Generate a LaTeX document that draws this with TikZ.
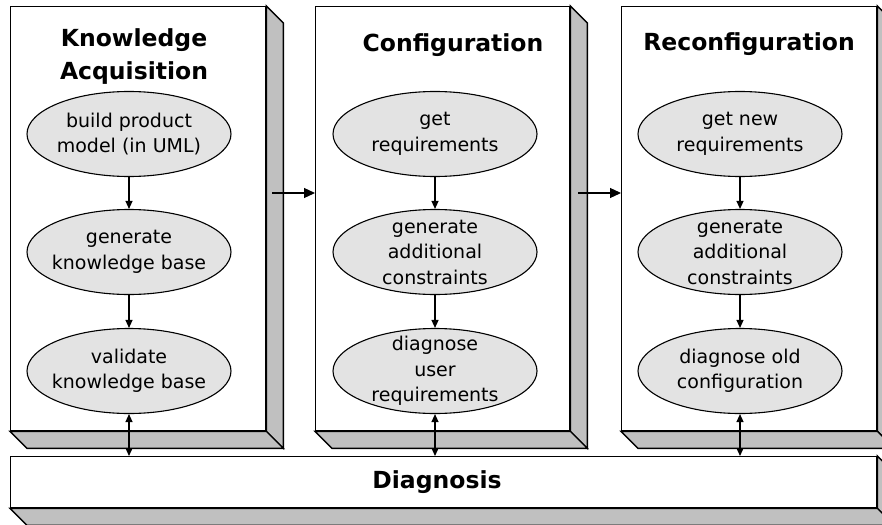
\documentclass[tikz,border=0pt]{standalone}
\usepackage{fontspec}
\setmainfont{DejaVu Sans}
\usetikzlibrary{arrows.meta,shapes.geometric}
\definecolor{sidegray}{HTML}{C0C0C0}
\definecolor{bubblegray}{HTML}{E3E3E3}
\begin{document}
\begin{tikzpicture}[x=1pt,y=-1pt,
  front/.style={draw, fill=white, line width=1.4pt, inner sep=0pt, anchor=north west},
  sideface/.style={draw, fill=sidegray, line width=1.4pt, line join=miter},
  bubble/.style={ellipse, draw, fill=bubblegray, line width=1.1pt,
    minimum width=204pt, minimum height=85pt, inner sep=0pt},
  bubbletext/.style={font=\fontsize{19}{25.5}\selectfont, align=center, inner sep=0pt},
  heading/.style={font=\fontsize{23.5}{33}\selectfont\bfseries, align=center, inner sep=0pt},
  flow/.style={-{Triangle[length=8pt,width=7pt]}, line width=1.2pt},
  twoway/.style={{Triangle[length=8pt,width=7pt]}-{Triangle[length=8pt,width=7pt]}, line width=1.2pt},
  handoff/.style={-{Triangle[length=11pt,width=10pt]}, line width=1.2pt},
]
\useasboundingbox (0,0) rectangle (882,524);

% front faces of the three phase panels and the diagnosis bar
\node[front, minimum width=255pt, minimum height=424pt] (p1) at (10,6) {};
\node[front, minimum width=254pt, minimum height=424pt] (p2) at (315,6) {};
\node[front, minimum width=255pt, minimum height=424pt] (p3) at (621,6) {};
\node[front, minimum width=866pt, minimum height=51pt] (diag) at (10,456) {};

% shaded right and bottom faces give each box its depth
\foreach \b in {p1,p2,p3,diag}{
  \draw[sideface] (\b.north east) -- ++(17,17) -- ([shift={(17,17)}]\b.south east)
    -- (\b.south east) -- cycle;
  \draw[sideface] (\b.south west) -- (\b.south east) -- ([shift={(17,17)}]\b.south east)
    -- ([shift={(17,17)}]\b.south west) -- cycle;
}

% headings
\node[heading] (h1) at (134,57) {Knowledge\\Acquisition};
\node[heading, anchor=base] (h2) at (453,52) {Configuration};
\node[heading, anchor=base] (h3) at (749,51) {Reconfiguration};
\node[heading, anchor=base] (h4) at (437,488) {Diagnosis};

% activities of each phase
\node[bubble] (a1) at (129,134) {};
\node[bubble] (a2) at (129,252) {};
\node[bubble] (a3) at (129,371) {};
\node[bubble] (b1) at (435,134) {};
\node[bubble] (b2) at (435,252) {};
\node[bubble] (b3) at (435,371) {};
\node[bubble] (c1) at (740,134) {};
\node[bubble] (c2) at (740,252) {};
\node[bubble] (c3) at (740,371) {};

\node[bubbletext] (a1t) at (a1) {build product\\model (in UML)};
\node[bubbletext] (a2t) at (a2) {generate\\knowledge base};
\node[bubbletext] (a3t) at (a3) {validate\\knowledge base};
\node[bubbletext] (b1t) at (b1) {get\\requirements};
\node[bubbletext] (b2t) at (b2) {generate\\additional\\constraints};
\node[bubbletext] (b3t) at (b3) {diagnose\\user\\requirements};
\node[bubbletext] (c1t) at (c1) {get new\\requirements};
\node[bubbletext] (c2t) at (c2) {generate\\additional\\constraints};
\node[bubbletext] (c3t) at (c3) {diagnose old\\configuration};

% sequence inside each phase
\foreach \p in {a,b,c}{
  \draw[flow] (\p1) -- (\p2);
  \draw[flow] (\p2) -- (\p3);
  \draw[twoway] (\p3.south) -- (\p3.south |- diag.north);
}

% hand-over from phase to phase
\coordinate (s1) at (272,193);
\coordinate (s2) at (578,193);
\draw[handoff] (s1) -- (s1 -| p2.west);
\draw[handoff] (s2) -- (s2 -| p3.west);
\end{tikzpicture}
\end{document}
